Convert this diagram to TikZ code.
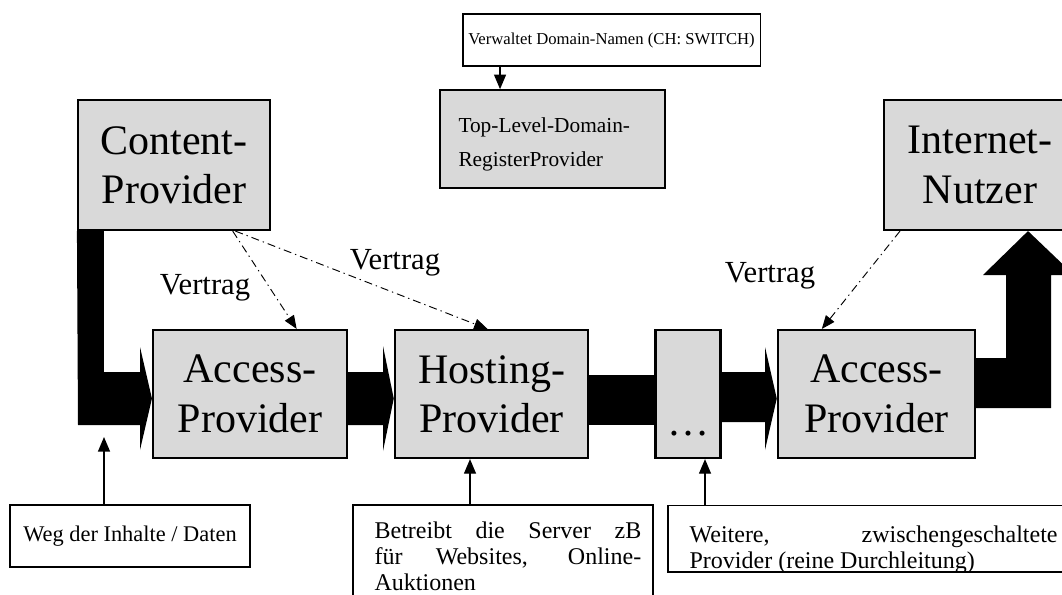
\documentclass[tikz,border=0pt]{standalone}
\usepackage{fontspec}
\setmainfont{Liberation Serif}
\usetikzlibrary{arrows.meta}

\tikzset{
  provbox/.style={draw, line width=1.6pt, fill=gray!30, align=center, inner sep=0pt,
    font=\fontsize{31.5}{37}\selectfont},
  notebox/.style={draw, line width=1pt, fill=white, inner xsep=10pt,
    font=\fontsize{16.8}{20}\selectfont},
  notetext/.style={anchor=north west, inner sep=0pt, align=justify,
    font=\fontsize{18}{19.8}\selectfont},
  vertrag/.style={line width=0.7pt, dash pattern=on 6pt off 3pt on 1pt off 3pt,
    -{Triangle[length=10pt,width=8pt]}},
  pointer/.style={line width=1.1pt, -{Triangle[length=11pt,width=9pt]}},
  vtext/.style={font=\fontsize{23}{26}\selectfont}
}

\begin{document}
\begin{tikzpicture}[x=0.75pt,y=-0.75pt]
\useasboundingbox (0,0) rectangle (1062,595);
\clip (0,0) rectangle (1062,595);

% Anbieter
\node[provbox, minimum width=144pt, minimum height=97.5pt] (cp) at (174,165) {Content-\\Provider};
\node[provbox, minimum width=144pt, minimum height=97.5pt] (nutzer) at (980,165) {Internet-\\Nutzer};
\node[provbox, minimum width=145.5pt, minimum height=96pt] (ap1) at (250,394) {Access-\\Provider};
\node[provbox, minimum width=145pt, minimum height=96pt] (hp) at (491.5,394) {Hosting-\\Provider};
\node[provbox, minimum width=48.75pt, minimum height=96pt] (dots) at (688,394) {\strut\\\dots};
\node[provbox, minimum width=148pt, minimum height=96pt] (ap2) at (876.5,394) {Access-\\Provider};

% Domain-Registrierung
\node[draw, line width=1.2pt, fill=gray!30, align=left, inner xsep=14pt,
  text width=141pt, minimum height=73.5pt, font=\fontsize{16}{26}\selectfont]
  (tld) at (552.5,139) {\rule{0pt}{19pt}Top-Level-Domain-\\RegisterProvider};
\node[notebox, minimum width=223pt, minimum height=39pt, inner xsep=2pt,
  font=\fontsize{12.5}{14}\selectfont] (verw) at (611.5,40) {Verwaltet Domain-Namen (CH: SWITCH)};
\draw[pointer] ([xshift=-83.6pt]verw.south) -- ([xshift=-83.6pt]verw.south |- tld.north);

% Vertraege
\draw[vertrag] ([xshift=44pt]cp.south) -- ([xshift=35pt]ap1.north);
\draw[vertrag] ([xshift=46pt]cp.south) -- ([xshift=-3pt]hp.north);
\draw[vertrag] ([xshift=-60pt]nutzer.south) -- ([xshift=-41pt]ap2.north);
\node[vtext] (v1) at (205,288) {Vertrag};
\node[vtext] (v2) at (395,263) {Vertrag};
\node[vtext] (v3) at (770,276) {Vertrag};

% Weg der Daten
\fill (cp.south west) -- ++(27,0) |- (140,372) -- (140,347) -- ([yshift=-3.4pt]ap1.west)
  -- (140,450) -- (140,425) -- (78,425) -- cycle;
\fill (347,372) -- (383,372) -- (383,346) -- ([yshift=-3.4pt]hp.west)
  -- (383,451) -- (383,425) -- (347,425) -- cycle;
\fill (588,375) rectangle (655,425);
\fill (720,372) -- (765,372) -- (765,347) -- ([yshift=-3.4pt]ap2.west)
  -- (765,450) -- (765,422) -- (720,422) -- cycle;
\fill (975,358) -- (1006,358) -- (1006,275) -- (983,275) -- ([xshift=36pt]nutzer.south)
  -- (1074,275) -- (1051,275) -- (1051,408) -- (975,408) -- cycle;

% Erlaeuterungen
\node[notebox, minimum width=180pt, minimum height=46.5pt] (weg) at (130,536) {Weg der Inhalte / Daten};
\coordinate (wegziel) at (104,437);
\draw[pointer] ([xshift=-19.5pt]weg.north) -- (wegziel);

\node[notebox, minimum width=225pt, minimum height=90pt] (betr) at (503,565) {};
\begin{scope}
\clip (betr.south west) rectangle (betr.north east);
\node[notetext, text width=200pt, font=\fontsize{18}{19.3}\selectfont] (betrtext)
  at ([xshift=16.5pt,yshift=-13pt]betr.north west)
  {Betreibt die Server zB\linebreak für Websites, Online-\linebreak Auktionen};
\end{scope}
\draw[pointer] ([xshift=-24.75pt]betr.north) -- ([xshift=-24.75pt]betr.north |- hp.south);

\node[notebox, minimum width=301.5pt, minimum height=50pt] (weit) at (869,538.5) {};
\begin{scope}
\clip (weit.south west) rectangle (weit.north east);
\node[notetext, text width=276pt] (weittext) at ([xshift=16.5pt,yshift=-15.5pt]weit.north west)
  {Weitere, zwischengeschaltete\linebreak Provider (reine Durchleitung)};
\end{scope}
\draw[pointer] ([xshift=-123pt]weit.north) -- ([xshift=-123pt]weit.north |- dots.south);
\end{tikzpicture}
\end{document}
